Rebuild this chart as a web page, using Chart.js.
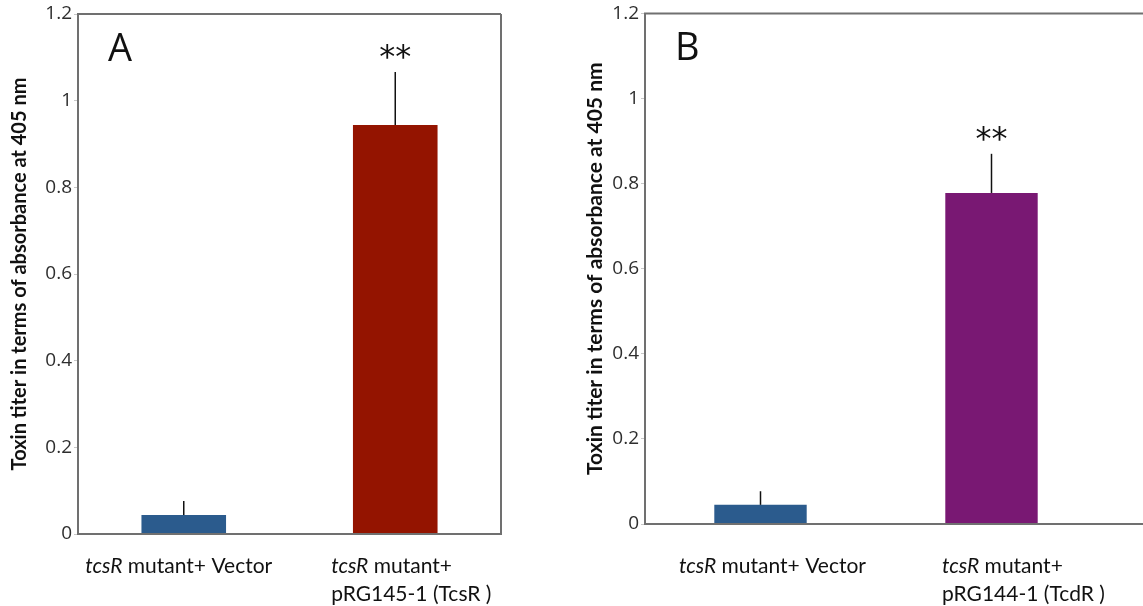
<!DOCTYPE html>
<html>
<head>
<meta charset="utf-8">
<script src="https://cdn.jsdelivr.net/npm/chart.js@4.4.0/dist/chart.umd.min.js"></script>
<style>
  html, body { margin: 0; padding: 0; background: #fff; overflow: hidden; }
  #wrap { position: relative; width: 1143px; height: 606px; }
  .panel { position: absolute; top: 0; height: 606px; }
  #panelA { left: 0; width: 570px; }
  #panelB { left: 580px; width: 563px; }
</style>
</head>
<body>
<div id="wrap">
  <div class="panel" id="panelA"><canvas id="chartA"></canvas></div>
  <div class="panel" id="panelB"><canvas id="chartB"></canvas></div>
</div>
<script>
// data
const categoriesA = [['tcsR mutant+ Vector'], ['tcsR mutant+', 'pRG145-1 (TcsR )']];
const categoriesB = [['tcsR mutant+ Vector'], ['tcsR mutant+', 'pRG144-1 (TcdR )']];
const valuesA = [0.044, 0.944];
const errorsA = [0.032, 0.122];
const valuesB = [0.045, 0.778];
const errorsB = [0.032, 0.092];
const significance = ['', '**'];
const yTicks = [0, 0.2, 0.4, 0.6, 0.8, 1, 1.2];
const yTickLabels = ['0', '0.2', '0.4', '0.6', '0.8', '1', '1.2'];
const yTitle = 'Toxin titer in terms of absorbance at 405 nm';
const italicWord = 'tcsR';

const barColorsA = ['#2b5b8d', '#941400'];
const barColorsB = ['#2b5b8d', '#791873'];

// error bars, stars, frame, panel letter and mixed-style category labels
const panelDecor = {
    id: 'panelDecor',
    afterDatasetsDraw(chart, args, opts) {
        const ctx = chart.ctx;
        const y = chart.scales.y;
        const x = chart.scales.x;
        const area = chart.chartArea;
        const meta = chart.getDatasetMeta(0);
        const values = chart.data.datasets[0].data;

        ctx.save();

        // error bars (upper whisker only)
        ctx.strokeStyle = '#111';
        ctx.lineWidth = 1.5;
        meta.data.forEach((bar, i) => {
            const top = y.getPixelForValue(values[i] + opts.errors[i]);
            ctx.beginPath();
            ctx.moveTo(bar.x, y.getPixelForValue(values[i]));
            ctx.lineTo(bar.x, top);
            ctx.stroke();
            if (opts.stars[i]) {
                ctx.fillStyle = '#111';
                ctx.font = '32px "DejaVu Sans"';
                ctx.textAlign = 'center';
                ctx.textBaseline = 'middle';
                ctx.fillText(opts.stars[i], bar.x, top - 13);
            }
        });

        // frame
        ctx.strokeStyle = '#707070';
        ctx.lineWidth = 2;
        const rightEdge = opts.closed ? area.right : chart.width;
        ctx.beginPath();
        ctx.moveTo(rightEdge, area.top);
        ctx.lineTo(area.left, area.top);
        ctx.lineTo(area.left, area.bottom);
        ctx.lineTo(rightEdge, area.bottom);
        if (opts.closed) ctx.lineTo(area.right, area.top);
        ctx.stroke();

        // panel letter
        ctx.fillStyle = '#111';
        ctx.font = '38px "Open Sans"';
        ctx.textAlign = 'left';
        ctx.textBaseline = 'alphabetic';
        ctx.fillText(opts.letter, area.left + 30, area.top + 47);

        // category labels, "tcsR" in italics
        const normalFont = opts.labelSize + 'px Lato';
        const italicFont = 'italic ' + opts.labelSize + 'px Lato';
        ctx.fillStyle = '#111';
        ctx.textBaseline = 'middle';
        chart.data.labels.forEach((lines, i) => {
            const cx = x.getPixelForValue(i);
            const parts = lines.map(line => {
                const it = line.startsWith(italicWord) ? italicWord : '';
                const rest = line.slice(it.length);
                ctx.font = italicFont;
                const wi = ctx.measureText(it).width;
                ctx.font = normalFont;
                const wr = ctx.measureText(rest).width;
                return { it, rest, wi, w: wi + wr };
            });
            const maxW = Math.max(...parts.map(p => p.w));
            const left = cx - maxW / 2 + opts.labelShift[i];
            parts.forEach((p, j) => {
                const ly = opts.labelTop + j * 28;
                ctx.textAlign = 'left';
                ctx.font = italicFont;
                ctx.fillText(p.it, left, ly);
                ctx.font = normalFont;
                ctx.fillText(p.rest, left + p.wi, ly);
            });
        });

        ctx.restore();
    }
};

function makeChart(id, cfg) {
    const ctx = document.getElementById(id).getContext('2d');
    return new Chart(ctx, {
        type: 'bar',
        data: {
            labels: cfg.labels,
            datasets: [{
                data: cfg.values,
                backgroundColor: cfg.colors,
                borderWidth: 0,
                categoryPercentage: 1,
                barPercentage: 0.4
            }]
        },
        options: {
            responsive: true,
            maintainAspectRatio: false,
            animation: false,
            layout: {
                padding: { left: 0, top: cfg.padTop, right: cfg.padRight, bottom: 0 }
            },
            plugins: {
                legend: { display: false },
                tooltip: { enabled: false },
                panelDecor: {
                    errors: cfg.errors,
                    stars: significance,
                    letter: cfg.letter,
                    closed: cfg.closed,
                    labelTop: 566,
                    labelSize: 21,
                    labelShift: cfg.labelShift
                }
            },
            scales: {
                x: {
                    ticks: { display: false },
                    grid: { display: false },
                    border: { display: false },
                    afterFit: s => { s.height = cfg.xHeight; }
                },
                y: {
                    min: 0,
                    max: 1.2,
                    afterBuildTicks: s => { s.ticks = yTicks.map(v => ({ value: v })); },
                    afterFit: s => { s.width = cfg.yWidth; },
                    ticks: {
                        font: { family: 'Open Sans', size: 19 },
                        color: '#2e2e2e',
                        padding: 2,
                        callback: (v, i) => yTickLabels[i]
                    },
                    grid: {
                        drawOnChartArea: false,
                        tickLength: 4,
                        color: '#c8c8c8'
                    },
                    border: { display: false },
                    title: {
                        display: true,
                        text: yTitle,
                        color: '#111',
                        font: { family: 'Lato', size: cfg.titleSize, weight: 'bold' },
                        padding: { top: cfg.titlePad, bottom: 0 }
                    }
                }
            }
        },
        plugins: [panelDecor]
    });
}

makeChart('chartA', {
    labels: categoriesA, values: valuesA, errors: errorsA, colors: barColorsA,
    letter: 'A', closed: true, yWidth: 78, xHeight: 72, padTop: 14, padRight: 69,
    titleSize: 20, titlePad: 8, labelShift: [-5, 16]
});

makeChart('chartB', {
    labels: categoriesB, values: valuesB, errors: errorsB, colors: barColorsB,
    letter: 'B', closed: false, yWidth: 65, xHeight: 82, padTop: 12, padRight: 36,
    titleSize: 21, titlePad: 3, labelShift: [12, 32]
});
</script>
</body>
</html>
